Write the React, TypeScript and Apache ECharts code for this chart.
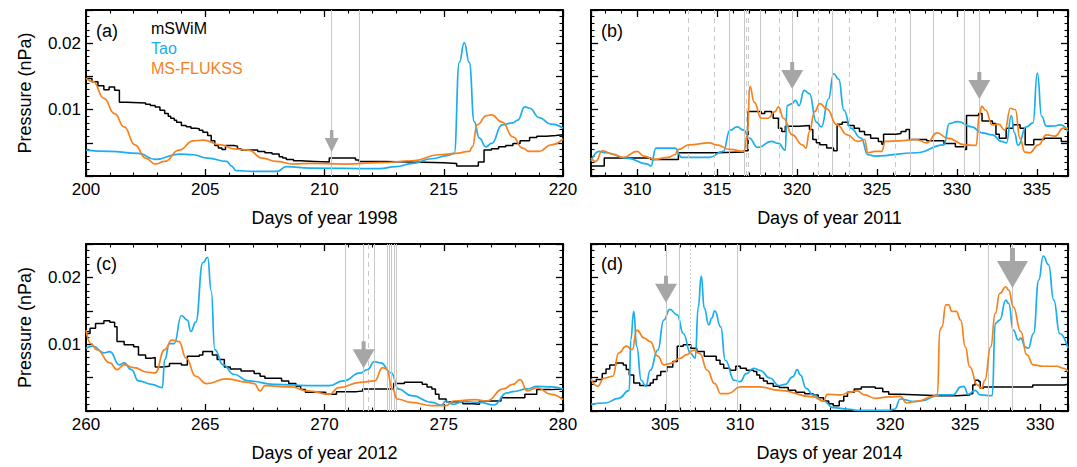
import React, { useEffect, useRef } from 'react';
import * as echarts from 'echarts';

const FONT = '"Liberation Sans", Arial, Helvetica, sans-serif';
const BLACK = '#000000';
const BLUE = '#1AAEEE';
const ORANGE = '#F6821F';
const GREY_LINE = '#C8C8C8';
const ARROW = '#A6A6A6';

const SERIES_NAMES = ['mSWiM', 'Tao', 'MS-FLUKSS'];
const PANEL_LABELS = ['(a)', '(b)', '(c)', '(d)'];
const X_TITLES = ['Days of year 1998', 'Days of year 2011', 'Days of year 2012', 'Days of year 2014'];
const X_RANGES = [[200, 220], [307.1, 336.95], [260, 280], [300.05, 331.85]];
const Y_RANGE = [0, 0.025];
const Y_TICK_LABELS = ['0.01', '0.02'];
const Y_TITLE = 'Pressure (nPa)';

// ---------- panel (a) 1998 ----------
const A_MSWIM = [[200,0.0147],[200.25,0.0142],[200.5,0.0136],[200.75,0.013],[200.97,0.0134],[201.2,0.0129],[201.4,0.0111],[201.7,0.011],[202.5,0.0108],[202.7,0.0106],[202.9,0.0104],[203.1,0.0099],[203.3,0.0094],[203.45,0.009],[203.55,0.0087],[203.7,0.0084],[203.8,0.0081],[204.0,0.0076],[204.2,0.0074],[204.4,0.0072],[204.6,0.0071],[204.75,0.0069],[204.9,0.0066],[205.1,0.0061],[205.25,0.0053],[205.4,0.0046],[205.55,0.0042],[205.7,0.004],[205.85,0.0046],[206.2,0.0045],[206.35,0.0041],[206.5,0.0039],[207.2,0.0037],[207.5,0.0035],[207.8,0.0033],[208.1,0.0029],[208.25,0.0027],[208.4,0.0025],[208.7,0.0023],[209.0,0.0022],[209.6,0.0021],[210.2,0.0027],[211.3,0.0024],[211.45,0.0022],[212.5,0.0021],[213.7,0.002],[215.0,0.0019],[215.54,0.0015],[216.45,0.0021],[216.69,0.0039],[217.0,0.0041],[217.3,0.0044],[217.6,0.0046],[217.9,0.0049],[218.2,0.0053],[218.6,0.0058],[218.9,0.006],[219.3,0.0061],[219.7,0.0062],[220,0.006]];
const A_TAO = [[200,0.0039],[201.0,0.0037],[202.2,0.0034],[202.9,0.0025],[203.9,0.0033],[204.5,0.0032],[205.1,0.0027],[205.9,0.0022],[206.1,0.0015],[206.3,0.0008],[207,0.0007],[208.0,0.0007],[208.4,0.0014],[209.4,0.0012],[212.3,0.0011],[213.0,0.0014],[213.7,0.0019],[214.5,0.0026],[215.2,0.0031],[215.44,0.0034],[215.65,0.0171],[215.86,0.0201],[216.07,0.0171],[216.28,0.0082],[216.49,0.0057],[216.77,0.0044],[217.0,0.0049],[217.45,0.0077],[217.9,0.008],[218.1,0.0084],[218.4,0.0104],[218.6,0.0102],[219.0,0.0088],[219.5,0.0078],[220,0.0072]];
const A_FLUKSS = [[200,0.0147],[200.3,0.0142],[200.75,0.0117],[201.2,0.0094],[201.6,0.0074],[202.05,0.0047],[202.5,0.0027],[202.9,0.0018],[203.3,0.0022],[203.9,0.0039],[204.5,0.0053],[204.9,0.0054],[205.65,0.0047],[206.2,0.0041],[206.8,0.0039],[207.4,0.0027],[207.97,0.0022],[208.7,0.0018],[209.4,0.0019],[210.85,0.0018],[212.3,0.002],[213.7,0.0023],[214.8,0.0032],[215.5,0.0034],[216.07,0.0037],[216.2,0.0044],[216.4,0.0077],[216.8,0.0091],[217.0,0.0092],[217.45,0.0081],[217.9,0.0059],[218.3,0.0042],[218.6,0.0037],[219.0,0.0037],[219.5,0.0047],[220,0.0056]];
const A_SOLID = [210.27, 211.47];
const A_DASHED: number[] = [];
const A_ARROWS = [[210.3, 0.0036]];

// ---------- panel (b) 2011 ----------
const B_MSWIM = [[307.1,0.0015],[307.93,0.0027],[309.33,0.0027],[310.84,0.0025],[312.57,0.0035],[314.51,0.0035],[314.94,0.0036],[316.67,0.0038],[316.93,0.0097],[317.75,0.0094],[317.97,0.0097],[318.4,0.0094],[318.5,0.0087],[318.83,0.0072],[319.04,0.0067],[319.26,0.0075],[320.12,0.0076],[320.77,0.007],[320.98,0.0055],[321.2,0.005],[321.42,0.0047],[321.85,0.0042],[322.28,0.0038],[322.5,0.0078],[322.82,0.0081],[323.2,0.0076],[323.57,0.0072],[323.9,0.0067],[324.22,0.0062],[324.6,0.0057],[325.08,0.0052],[325.3,0.0048],[325.41,0.0063],[326.16,0.0064],[326.5,0.0067],[326.81,0.007],[327.03,0.0055],[328.11,0.0053],[329.19,0.0049],[329.9,0.0044],[330.49,0.004],[330.6,0.0091],[331.36,0.0094],[331.57,0.0083],[332.22,0.0079],[332.44,0.0063],[332.65,0.0057],[333.08,0.0072],[333.52,0.0077],[333.95,0.0072],[334.27,0.0047],[334.81,0.0055],[335.45,0.0057],[336.53,0.0052],[336.95,0.005]];
const B_TAO = [[307.1,0.0022],[307.6,0.0037],[308.04,0.0035],[309.33,0.0027],[310.63,0.0018],[310.84,0.0015],[311.17,0.0042],[312.35,0.0042],[312.78,0.0028],[314.51,0.0028],[315.37,0.0037],[315.8,0.0069],[316.24,0.0074],[316.67,0.0069],[316.99,0.0057],[317.54,0.0043],[318.4,0.0052],[318.83,0.0049],[319.26,0.0039],[319.37,0.0106],[319.69,0.0109],[319.9,0.0114],[320.12,0.0106],[320.44,0.0129],[320.77,0.0124],[321.2,0.0081],[321.52,0.0074],[321.96,0.0116],[322.28,0.0154],[322.6,0.0146],[322.93,0.0099],[323.35,0.0072],[324.0,0.0057],[324.43,0.0032],[324.87,0.003],[327.46,0.0035],[329.19,0.0047],[329.52,0.0079],[330.06,0.0082],[330.92,0.0074],[331.57,0.0065],[332.22,0.0062],[332.8,0.0052],[333.1,0.005],[333.4,0.0091],[333.6,0.0065],[333.82,0.0046],[334.34,0.0074],[334.76,0.008],[335.03,0.0155],[335.3,0.009],[335.6,0.0075],[336.0,0.0075],[336.5,0.0077],[336.95,0.0067]];
const B_FLUKSS = [[307.1,0.0027],[307.39,0.0022],[307.82,0.0038],[308.47,0.0033],[309.12,0.0028],[309.98,0.0037],[310.41,0.003],[311.06,0.0025],[311.92,0.0028],[312.35,0.0032],[312.57,0.004],[313.22,0.0047],[314.51,0.005],[314.94,0.0047],[315.8,0.004],[316.67,0.0037],[316.88,0.0062],[317.04,0.0135],[317.32,0.0111],[317.75,0.0087],[318.18,0.0087],[318.61,0.0097],[318.83,0.0104],[319.15,0.0087],[319.69,0.0062],[320.33,0.0047],[320.55,0.0042],[320.77,0.0067],[321.09,0.0097],[321.42,0.0109],[321.85,0.0101],[322.5,0.0077],[323.14,0.0062],[323.79,0.0052],[324.22,0.0055],[324.43,0.0035],[324.87,0.0037],[325.3,0.0037],[325.51,0.0052],[326.38,0.0053],[327.46,0.0055],[328.11,0.005],[328.76,0.0065],[329.41,0.0057],[330.49,0.0047],[331.2,0.0046],[331.4,0.0091],[331.55,0.0105],[331.8,0.0099],[332.2,0.0077],[332.6,0.0078],[333.0,0.0069],[333.35,0.0102],[333.65,0.01],[333.95,0.0056],[334.25,0.0036],[334.55,0.0035],[335.1,0.0047],[335.6,0.0062],[336.15,0.006],[336.65,0.0072],[336.95,0.0072]];
const B_SOLID = [315.76, 316.67, 317.71, 319.69, 322.17, 327.09, 328.54, 330.45, 331.4];
const B_DASHED = [313.17, 314.83, 316.82, 316.95, 318.89, 321.31, 323.25, 326.16];
const B_ARROWS = [[319.69, 0.0131], [331.4, 0.0116]];

// ---------- panel (c) 2012 ----------
const C_MSWIM = [[260,0.0116],[260.17,0.0124],[260.4,0.0131],[260.75,0.0135],[261.0,0.0133],[261.2,0.0126],[261.3,0.0104],[261.6,0.0099],[262.0,0.0096],[262.2,0.0084],[262.5,0.0079],[262.75,0.008],[262.9,0.0066],[263.2,0.0067],[263.5,0.0071],[264.0,0.0069],[264.25,0.0082],[264.75,0.0084],[264.9,0.0089],[265.3,0.0084],[265.5,0.0077],[265.8,0.0066],[266.05,0.0063],[266.5,0.006],[267.05,0.0056],[267.3,0.0052],[267.5,0.0049],[268.2,0.0045],[268.5,0.0041],[268.8,0.0037],[269.0,0.0032],[269.2,0.0028],[270.05,0.0025],[270.5,0.0029],[271.35,0.003],[271.6,0.0033],[272.8,0.0033],[272.9,0.0041],[273.35,0.0043],[274.1,0.004],[274.3,0.0036],[274.5,0.0033],[274.65,0.0025],[274.8,0.0018],[275.1,0.0014],[275.8,0.0011],[276.2,0.001],[276.5,0.0015],[277.4,0.002],[277.9,0.002],[278.4,0.0025],[278.9,0.0032],[279.5,0.0033],[280,0.0033]];
const C_TAO = [[260,0.0094],[260.3,0.0097],[260.75,0.0087],[261.0,0.0089],[261.4,0.0069],[261.6,0.0072],[261.9,0.0062],[262.2,0.0045],[262.75,0.004],[263.2,0.0035],[263.3,0.0077],[263.5,0.0101],[263.7,0.0101],[264.0,0.0143],[264.25,0.0136],[264.4,0.0119],[264.6,0.0133],[264.9,0.0222],[265.1,0.023],[265.25,0.018],[265.4,0.0092],[265.75,0.0069],[266.2,0.0055],[266.8,0.0045],[267.9,0.004],[269.3,0.0038],[270.2,0.0038],[270.8,0.0045],[271.5,0.0057],[271.8,0.0062],[272.09,0.0074],[272.35,0.0072],[272.8,0.0057],[273.1,0.0033],[273.65,0.0023],[274.5,0.0013],[274.9,0.0009],[275.1,0.0015],[275.4,0.001],[275.8,0.0014],[276.5,0.0013],[277.1,0.0009],[277.65,0.0027],[277.9,0.0029],[278.5,0.0033],[278.9,0.0037],[279.5,0.0036],[280,0.0033]];
const C_FLUKSS = [[260,0.0121],[260.2,0.0101],[260.45,0.0092],[261.0,0.0072],[261.3,0.0062],[261.6,0.0069],[262.0,0.0065],[262.6,0.0058],[262.9,0.0057],[263.3,0.0092],[263.6,0.0106],[263.9,0.0104],[264.2,0.0079],[264.6,0.0052],[265.05,0.0041],[265.9,0.0048],[266.8,0.0043],[267.05,0.0041],[267.3,0.003],[267.5,0.0038],[268.6,0.0036],[269.3,0.003],[270.2,0.0025],[270.6,0.0035],[271.5,0.0043],[272.1,0.0045],[272.44,0.0065],[272.6,0.0063],[272.85,0.0033],[273.05,0.0018],[273.65,0.0013],[274.5,0.0008],[275.1,0.0008],[275.4,0.0015],[276.3,0.0017],[276.8,0.0015],[277.5,0.0033],[277.9,0.004],[278.2,0.0047],[278.5,0.003],[278.9,0.0035],[279.5,0.0025],[280,0.0017]];
const C_SOLID = [270.87, 271.64, 272.09, 272.62, 272.72, 272.81, 272.91, 273.0];
const C_DASHED = [271.85];
const C_ARROWS = [[271.64, 0.0064]];

// ---------- panel (d) 2014 ----------
const D_MSWIM = [[300.05,0.0044],[300.4,0.0047],[300.8,0.0056],[301.05,0.0063],[301.3,0.0069],[301.7,0.0072],[302.2,0.0069],[302.4,0.0062],[302.6,0.0054],[302.9,0.0042],[303.3,0.0038],[303.8,0.0038],[304.0,0.0042],[304.2,0.0047],[304.45,0.0053],[304.7,0.0059],[305.1,0.0066],[305.5,0.0074],[305.8,0.0097],[306.2,0.0099],[306.7,0.0094],[307.1,0.0089],[307.6,0.0082],[308.0,0.0082],[308.4,0.0076],[308.65,0.007],[308.9,0.0064],[309.3,0.0061],[309.7,0.0067],[310.0,0.0064],[310.4,0.0061],[310.9,0.0059],[311.1,0.0054],[311.3,0.0049],[311.55,0.0045],[311.8,0.0041],[312.2,0.0037],[312.6,0.0035],[313.2,0.0031],[313.7,0.0028],[314.3,0.0026],[314.86,0.0024],[315.2,0.002],[315.55,0.0015],[315.9,0.0011],[316.2,0.0008],[316.6,0.0015],[316.9,0.0022],[317.15,0.0028],[317.6,0.0033],[318.07,0.0036],[319.0,0.0034],[319.5,0.0029],[319.9,0.0025],[320.67,0.0024],[322.0,0.0023],[323.3,0.0023],[324.4,0.0024],[325.3,0.0026],[325.5,0.0039],[325.66,0.0046],[325.9,0.0044],[326.0,0.0034],[326.2,0.0036],[327.3,0.0036],[329.5,0.0039],[331.6,0.004],[331.85,0.0043]];
const D_TAO = [[300.05,0.001],[301.0,0.0012],[301.9,0.0019],[302.6,0.0031],[302.7,0.0106],[302.9,0.0149],[303.1,0.0096],[303.4,0.0046],[303.7,0.0037],[304.0,0.0061],[304.5,0.0091],[304.9,0.0136],[305.3,0.0152],[305.8,0.0144],[306.2,0.0116],[306.7,0.0086],[307.0,0.0079],[307.2,0.0156],[307.4,0.0202],[307.6,0.0154],[307.9,0.0129],[308.1,0.0139],[308.3,0.015],[308.7,0.0126],[309.0,0.0076],[309.6,0.0046],[310.0,0.0044],[310.4,0.0056],[310.9,0.0064],[311.3,0.0061],[312.0,0.0049],[312.56,0.0038],[313.0,0.004],[313.5,0.0051],[313.8,0.0062],[314.0,0.0054],[314.4,0.0034],[314.86,0.0024],[315.55,0.0015],[316.2,0.0005],[317.15,0.0003],[317.8,0.0001],[319.9,0.0001],[320.3,0.0003],[320.67,0.0018],[321.6,0.0014],[322.0,0.0015],[323.3,0.0024],[324.2,0.0024],[324.7,0.0036],[324.9,0.0037],[325.2,0.0025],[325.66,0.0031],[326.0,0.0024],[326.8,0.0023],[327.0,0.0131],[327.3,0.0136],[327.7,0.0166],[327.9,0.0161],[328.2,0.0121],[328.55,0.0106],[328.7,0.0109],[329.0,0.0096],[329.2,0.0094],[329.55,0.0116],[329.9,0.0196],[330.2,0.0232],[330.55,0.0219],[330.9,0.0166],[331.3,0.0116],[331.85,0.0094]];
const D_FLUKSS = [[300.05,0.0048],[300.5,0.0037],[300.9,0.0049],[301.5,0.0052],[301.9,0.0087],[302.4,0.0097],[302.8,0.0092],[303.1,0.0121],[303.6,0.0109],[304.0,0.0104],[304.5,0.0082],[304.9,0.0069],[305.3,0.0071],[306.0,0.0079],[306.4,0.0084],[306.9,0.0091],[307.3,0.0086],[307.8,0.0061],[308.3,0.0041],[308.7,0.0026],[309.2,0.0026],[310.0,0.0036],[311.3,0.0036],[312.6,0.0031],[314.86,0.0021],[315.55,0.0015],[315.8,0.0025],[316.7,0.0024],[317.3,0.0028],[317.8,0.003],[318.3,0.0024],[319.0,0.0019],[319.9,0.0021],[320.67,0.0022],[321.1,0.0012],[321.8,0.0015],[322.9,0.0022],[323.15,0.0025],[323.3,0.0121],[323.45,0.0126],[323.7,0.0159],[323.9,0.0159],[324.1,0.0149],[324.4,0.0149],[324.7,0.0136],[325.0,0.0096],[325.3,0.0066],[325.8,0.0039],[326.1,0.0034],[326.3,0.0046],[326.7,0.0096],[327.0,0.0146],[327.3,0.0176],[327.7,0.0186],[327.9,0.0181],[328.2,0.0156],[328.7,0.0119],[329.1,0.0084],[329.55,0.0069],[330.2,0.0067],[331.1,0.0067],[331.55,0.0064],[331.85,0.0059]];
const D_SOLID = [305.05, 305.95, 309.82, 326.55, 328.15];
const D_DOTTED = [306.67];
const D_ARROWS = [[305.05, 0.0162], [328.15, 0.0184]];

// arrow shapes (pixels): head width, total height, head height, shaft width
const ARROW_SHAPES: Record<string, number[]> = {
  small: [14, 22, 14, 3.5],
  medium: [22, 27, 19, 4],
  large: [31, 40, 27, 5],
};

function arrowPath(w: number, h: number, hh: number, sw: number) {
  const l = (w - sw) / 2, r = (w + sw) / 2, b = h - hh;
  return `path://M${l},0 L${r},0 L${r},${b} L${w},${b} L${w / 2},${h} L0,${b} L${l},${b} Z`;
}

const PANELS = [
  { black: A_MSWIM, blue: A_TAO, orange: A_FLUKSS, solid: A_SOLID, dashed: A_DASHED, dashType: [5, 4], arrows: A_ARROWS, arrowSizes: ['small'] },
  { black: B_MSWIM, blue: B_TAO, orange: B_FLUKSS, solid: B_SOLID, dashed: B_DASHED, dashType: [5, 4], arrows: B_ARROWS, arrowSizes: ['medium', 'medium'] },
  { black: C_MSWIM, blue: C_TAO, orange: C_FLUKSS, solid: C_SOLID, dashed: C_DASHED, dashType: [5, 4], arrows: C_ARROWS, arrowSizes: ['medium'] },
  { black: D_MSWIM, blue: D_TAO, orange: D_FLUKSS, solid: D_SOLID, dashed: D_DOTTED, dashType: [2, 2], arrows: D_ARROWS, arrowSizes: ['medium', 'large'] },
];

const GRIDS = [
  { left: 86, top: 10, width: 477, height: 166 },
  { left: 591, top: 10, width: 477, height: 166 },
  { left: 86, top: 244, width: 477, height: 167 },
  { left: 591, top: 244, width: 477, height: 167 },
];
const PANEL_LABEL_POS = [[96, 22], [601, 22], [96, 255], [601, 255]];

function buildOption() {
  const xAxis: any[] = [];
  const yAxis: any[] = [];
  const series: any[] = [];
  const frame = { show: true, onZero: false, lineStyle: { color: '#000', width: 2 } };
  const tick = { show: true, inside: true, length: 7, lineStyle: { color: '#000', width: 1.3 } };
  const minor = { show: true, inside: true, splitNumber: 5, length: 3.5, lineStyle: { color: '#000', width: 1.1 } };

  PANELS.forEach((p, g) => {
    const [xmin, xmax] = X_RANGES[g];
    const aligned = xmin % 5 === 0;
    const xCommon: any = {
      type: 'value', gridIndex: g, min: xmin, max: xmax,
      ...(aligned ? { interval: 5 } : { minInterval: 5, maxInterval: 5 }),
      axisLine: frame, axisTick: tick, minorTick: minor,
      splitLine: { show: false }, minorSplitLine: { show: false },
    };
    xAxis.push({
      ...xCommon, position: 'bottom',
      name: X_TITLES[g], nameLocation: 'middle', nameGap: 33,
      nameTextStyle: { fontSize: 18, fontFamily: FONT, color: '#000' },
      axisLabel: {
        show: true, margin: 5, fontSize: 17, fontFamily: FONT, color: '#000',
        formatter: (v: number) => (Math.abs(v / 5 - Math.round(v / 5)) < 1e-6 ? String(Math.round(v)) : ''),
      },
    });
    xAxis.push({ ...xCommon, position: 'top', axisLabel: { show: false } });

    const yCommon: any = {
      type: 'value', gridIndex: g, min: Y_RANGE[0], max: Y_RANGE[1], interval: 0.005,
      axisLine: frame, axisTick: tick, minorTick: minor,
      splitLine: { show: false }, minorSplitLine: { show: false },
    };
    const leftCol = g % 2 === 0;
    yAxis.push({
      ...yCommon, position: 'left',
      name: leftCol ? Y_TITLE : '', nameLocation: 'middle', nameGap: 52, nameRotate: 90,
      nameTextStyle: { fontSize: 18, fontFamily: FONT, color: '#000' },
      axisLabel: {
        show: leftCol, margin: 5, fontSize: 17, fontFamily: FONT, color: '#000',
        formatter: (v: number) => {
          if (Math.abs(v - 0.01) < 1e-9) return Y_TICK_LABELS[0];
          if (Math.abs(v - 0.02) < 1e-9) return Y_TICK_LABELS[1];
          return '';
        },
      },
    });
    yAxis.push({ ...yCommon, position: 'right', axisLabel: { show: false } });

    const xi = 2 * g, yi = 2 * g;
    series.push({
      type: 'line', xAxisIndex: xi, yAxisIndex: yi, data: [], silent: true, z: 1,
      markLine: {
        silent: true, symbol: ['none', 'none'], label: { show: false }, animation: false,
        lineStyle: { color: GREY_LINE, width: 1, type: 'solid' },
        emphasis: { disabled: true },
        data: [
          ...p.solid.map((v) => ({ xAxis: v })),
          ...p.dashed.map((v) => ({ xAxis: v, lineStyle: { color: GREY_LINE, width: 1, type: p.dashType } })),
        ],
      },
    });
    series.push({
      type: 'line', name: SERIES_NAMES[0], xAxisIndex: xi, yAxisIndex: yi, data: p.black,
      step: 'end', showSymbol: false, symbol: 'none', z: 3,
      lineStyle: { color: BLACK, width: 1.5 }, itemStyle: { color: BLACK },
    });
    series.push({
      type: 'line', name: SERIES_NAMES[1], xAxisIndex: xi, yAxisIndex: yi, data: p.blue,
      smooth: 0.5, smoothMonotone: 'x', showSymbol: false, symbol: 'none', z: 4,
      lineStyle: { color: BLUE, width: 1.7 }, itemStyle: { color: BLUE },
    });
    series.push({
      type: 'line', name: SERIES_NAMES[2], xAxisIndex: xi, yAxisIndex: yi, data: p.orange,
      smooth: 0.5, smoothMonotone: 'x', showSymbol: false, symbol: 'none', z: 5,
      lineStyle: { color: ORANGE, width: 1.7 }, itemStyle: { color: ORANGE },
    });
    series.push({
      type: 'line', xAxisIndex: xi, yAxisIndex: yi, data: [], silent: true, z: 10,
      markPoint: {
        silent: true, animation: false, label: { show: false },
        data: p.arrows.map((a, k) => {
          const [w, h, hh, sw] = ARROW_SHAPES[p.arrowSizes[k]];
          return {
            coord: a, symbol: arrowPath(w, h, hh, sw), symbolSize: [w, h],
            symbolOffset: [0, -h / 2], itemStyle: { color: ARROW },
          };
        }),
      },
    });
  });

  return {
    animation: false,
    backgroundColor: '#ffffff',
    textStyle: { fontFamily: FONT },
    grid: GRIDS.map((g) => ({ ...g, containLabel: false })),
    xAxis, yAxis, series,
    legend: {
      show: true, left: 145, top: 19, orient: 'vertical', padding: 0,
      itemWidth: 0, itemHeight: 0, itemGap: 2, selectedMode: false,
      textStyle: { fontSize: 16, fontFamily: FONT, lineHeight: 18 },
      data: [
        { name: SERIES_NAMES[0], textStyle: { color: BLACK } },
        { name: SERIES_NAMES[1], textStyle: { color: BLUE } },
        { name: SERIES_NAMES[2], textStyle: { color: ORANGE } },
      ],
    },
    graphic: PANEL_LABELS.map((t, i) => ({
      type: 'text', left: PANEL_LABEL_POS[i][0], top: PANEL_LABEL_POS[i][1], silent: true,
      style: { text: t, fontSize: 18, fontFamily: FONT, fill: '#000' },
    })),
  };
}

export default function App() {
  const ref = useRef<HTMLDivElement>(null);
  useEffect(() => {
    if (!ref.current) return;
    const chart = echarts.init(ref.current, undefined, { renderer: 'svg' });
    chart.setOption(buildOption() as any);
    return () => chart.dispose();
  }, []);
  return (
    <div
      ref={ref}
      style={{ position: 'fixed', left: 0, top: 0, width: 1077, height: 467, background: '#fff' }}
    />
  );
}
